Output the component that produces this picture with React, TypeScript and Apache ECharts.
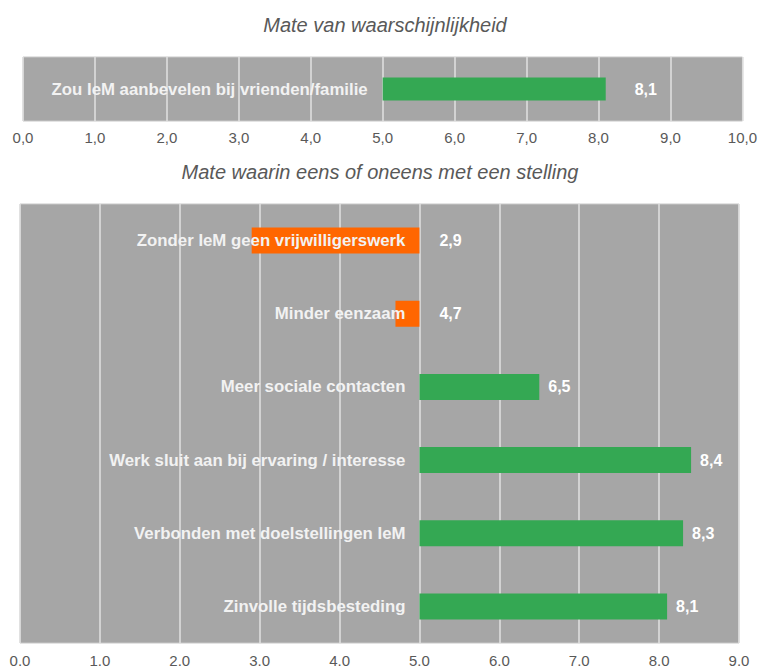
import React, { useEffect, useRef } from "react";
import * as echarts from "echarts";

const topCategories = ["Zou IeM aanbevelen bij vrienden/familie"];
const topValues = [8.1];
const bottomCategories = [
  "Zonder IeM geen vrijwilligerswerk",
  "Minder eenzaam",
  "Meer sociale contacten",
  "Werk sluit aan bij ervaring / interesse",
  "Verbonden met doelstellingen IeM",
  "Zinvolle tijdsbesteding",
];
const bottomValues = [2.9, 4.7, 6.5, 8.4, 8.3, 8.1];
const baseline = 5;
const titleTop = "Mate van waarschijnlijkheid";
const titleBottom = "Mate waarin eens of oneens met een stelling";

const GREEN = "#34A853";
const ORANGE = "#FF6600";
const FONT = '"Liberation Sans", Arial, sans-serif';

export default function App() {
  const ref = useRef<HTMLDivElement>(null);
  useEffect(() => {
    if (!ref.current) return;
    const chart = echarts.init(ref.current, undefined, { renderer: "svg" });
    const comma = (v: number) => v.toFixed(1).replace(".", ",");

    const buildSeries = (
      cats: string[],
      vals: number[],
      axisIndex: number,
      barWidth: number,
      greenDist: number,
      orangeDist: number,
      catDist: number
    ) => [
      {
        type: "bar",
        xAxisIndex: axisIndex,
        yAxisIndex: axisIndex,
        stack: "s" + axisIndex,
        barWidth,
        barGap: "-100%",
        itemStyle: { color: "transparent" },
        silent: true,
        data: vals.map((v) => Math.min(v, baseline)),
      },
      {
        type: "bar",
        xAxisIndex: axisIndex,
        yAxisIndex: axisIndex,
        stack: "s" + axisIndex,
        barWidth,
        barGap: "-100%",
        data: vals.map((v) => ({
          value: Math.abs(v - baseline),
          itemStyle: { color: v < baseline ? ORANGE : GREEN },
          label: {
            show: true,
            position: "right",
            distance: v < baseline ? orangeDist : greenDist,
            formatter: () => comma(v),
            color: "#FFFFFF",
            fontWeight: "bold",
            fontSize: 16,
            fontFamily: FONT,
          },
        })),
      },
      {
        type: "bar",
        xAxisIndex: axisIndex,
        yAxisIndex: axisIndex,
        barWidth,
        barGap: "-100%",
        z: 5,
        silent: true,
        itemStyle: { color: "transparent" },
        label: {
          show: true,
          position: "insideRight",
          distance: catDist,
          formatter: (p: any) => cats[p.dataIndex],
          color: "#F2F2F2",
          fontWeight: "bold",
          fontSize: 16.8,
          fontFamily: FONT,
        },
        data: vals.map(() => baseline),
      },
    ];

    chart.setOption({
      animation: false,
      backgroundColor: "#FFFFFF",
      grid: [
        {
          left: 23,
          top: 57,
          width: 720,
          height: 64,
          show: true,
          backgroundColor: "#A6A6A6",
          borderColor: "#C8C8C8",
          borderWidth: 1,
        },
        {
          left: 20,
          top: 204,
          width: 719,
          height: 440,
          show: true,
          backgroundColor: "#A6A6A6",
          borderColor: "#C8C8C8",
          borderWidth: 1,
        },
      ],
      xAxis: [
        {
          gridIndex: 0,
          type: "value",
          min: 0,
          max: 10,
          interval: 1,
          axisLine: { show: false },
          axisTick: { show: false },
          splitLine: { show: true, lineStyle: { color: "#E0E0E0", width: 1.5 } },
          axisLabel: {
            formatter: (v: number) => comma(v),
            color: "#595959",
            fontSize: 15,
            fontFamily: FONT,
            margin: 9,
          },
        },
        {
          gridIndex: 1,
          type: "value",
          min: 0,
          max: 9,
          interval: 1,
          axisLine: { show: false },
          axisTick: { show: false },
          splitLine: { show: true, lineStyle: { color: "#E0E0E0", width: 1.5 } },
          axisLabel: {
            formatter: (v: number) => v.toFixed(1),
            color: "#595959",
            fontSize: 15,
            fontFamily: FONT,
            margin: 10,
          },
        },
      ],
      yAxis: [
        {
          gridIndex: 0,
          type: "category",
          inverse: true,
          data: topCategories,
          axisLine: { show: false },
          axisTick: { show: false },
          axisLabel: { show: false },
        },
        {
          gridIndex: 1,
          type: "category",
          inverse: true,
          data: bottomCategories,
          axisLine: { show: false },
          axisTick: { show: false },
          axisLabel: { show: false },
        },
      ],
      graphic: [
        {
          type: "text",
          x: 385,
          y: 25,
          style: {
            text: titleTop,
            align: "center",
            verticalAlign: "middle",
            font: `italic 20px ${FONT}`,
            fill: "#595959",
          },
        },
        {
          type: "text",
          x: 380,
          y: 172,
          style: {
            text: titleBottom,
            align: "center",
            verticalAlign: "middle",
            font: `italic 20px ${FONT}`,
            fill: "#595959",
          },
        },
      ],
      series: [
        ...buildSeries(topCategories, topValues, 0, 23, 29, 20, 15),
        ...buildSeries(bottomCategories, bottomValues, 1, 26, 9, 20, 14),
      ],
    });
    return () => chart.dispose();
  }, []);
  return (
    <div
      ref={ref}
      style={{ position: "absolute", left: 0, top: 0, width: 760, height: 668 }}
    />
  );
}
